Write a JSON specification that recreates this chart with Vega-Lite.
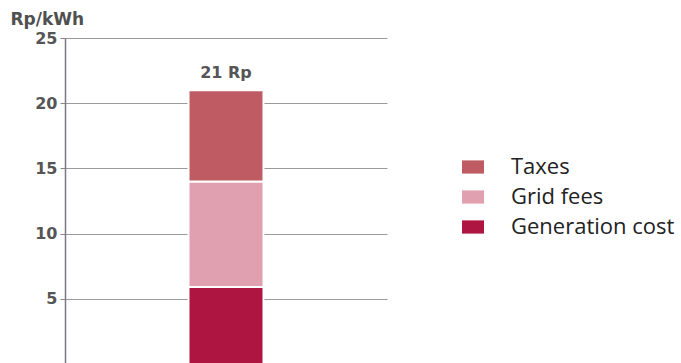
{
  "$schema": "https://vega.github.io/schema/vega-lite/v6.json",
  "width": 322,
  "height": 326,
  "autosize": {"type": "none"},
  "padding": {"left": 65, "top": 38, "right": 294, "bottom": 0},
  "background": "white",
  "config": {
    "view": {"stroke": null},
    "font": "DejaVu Sans"
  },
  "datasets": {
    "costs": [
      {"cat": "Household", "component": "Generation cost", "value": 5.9, "rank": 1},
      {"cat": "Household", "component": "Grid fees", "value": 8.1, "rank": 2},
      {"cat": "Household", "component": "Taxes", "value": 7.0, "rank": 3}
    ],
    "total": [
      {"cat": "Household", "total": 21, "label": "21 Rp"}
    ]
  },
  "resolve": {"scale": {"y": "shared"}},
  "layer": [
    {
      "data": {"name": "costs"},
      "mark": {"type": "bar", "width": 75, "stroke": "white", "strokeWidth": 2},
      "encoding": {
        "x": {"field": "cat", "type": "nominal", "axis": null},
        "y": {
          "field": "value",
          "type": "quantitative",
          "stack": "zero",
          "scale": {"domain": [0, 25], "nice": false, "zero": true},
          "axis": {
            "values": [5, 10, 15, 20, 25],
            "title": "Rp/kWh",
            "titleAngle": 0,
            "titleAlign": "left",
            "titleBaseline": "middle",
            "titleX": -55,
            "titleY": -19,
            "titleFont": "DejaVu Sans",
            "titleFontSize": 17,
            "titleFontWeight": "bold",
            "titleColor": "#505050",
            "labelFont": "DejaVu Sans",
            "labelFontSize": 16,
            "labelFontWeight": "bold",
            "labelColor": "#555555",
            "labelPadding": 3,
            "tickSize": 5,
            "tickColor": "#888888",
            "domainColor": "#7a7a80",
            "domainWidth": 1.5,
            "gridColor": "#9a9a9a",
            "gridWidth": 1
          }
        },
        "color": {
          "field": "component",
          "type": "nominal",
          "scale": {
            "domain": ["Taxes", "Grid fees", "Generation cost"],
            "range": ["#bf5c63", "#e0a0b0", "#ae1540"]
          },
          "legend": {
            "title": null,
            "orient": "none",
            "legendX": 397,
            "legendY": 118,
            "symbolType": "M-1,-0.6H1V0.6H-1Z",
            "symbolSize": 484,
            "symbolStrokeWidth": 0,
            "labelFont": "Open Sans",
            "labelFontSize": 22,
            "labelLimit": 400,
            "labelColor": "#222222",
            "labelOffset": 27,
            "rowPadding": 8
          }
        },
        "order": {"field": "rank", "type": "quantitative"}
      }
    },
    {
      "data": {"name": "total"},
      "mark": {"type": "text", "baseline": "bottom", "dy": -9, "font": "DejaVu Sans", "fontSize": 16, "fontWeight": "bold", "color": "#555555"},
      "encoding": {
        "x": {"field": "cat", "type": "nominal", "axis": null},
        "y": {"field": "total", "type": "quantitative", "scale": {"domain": [0, 25], "nice": false}},
        "text": {"field": "label"}
      }
    }
  ]
}
